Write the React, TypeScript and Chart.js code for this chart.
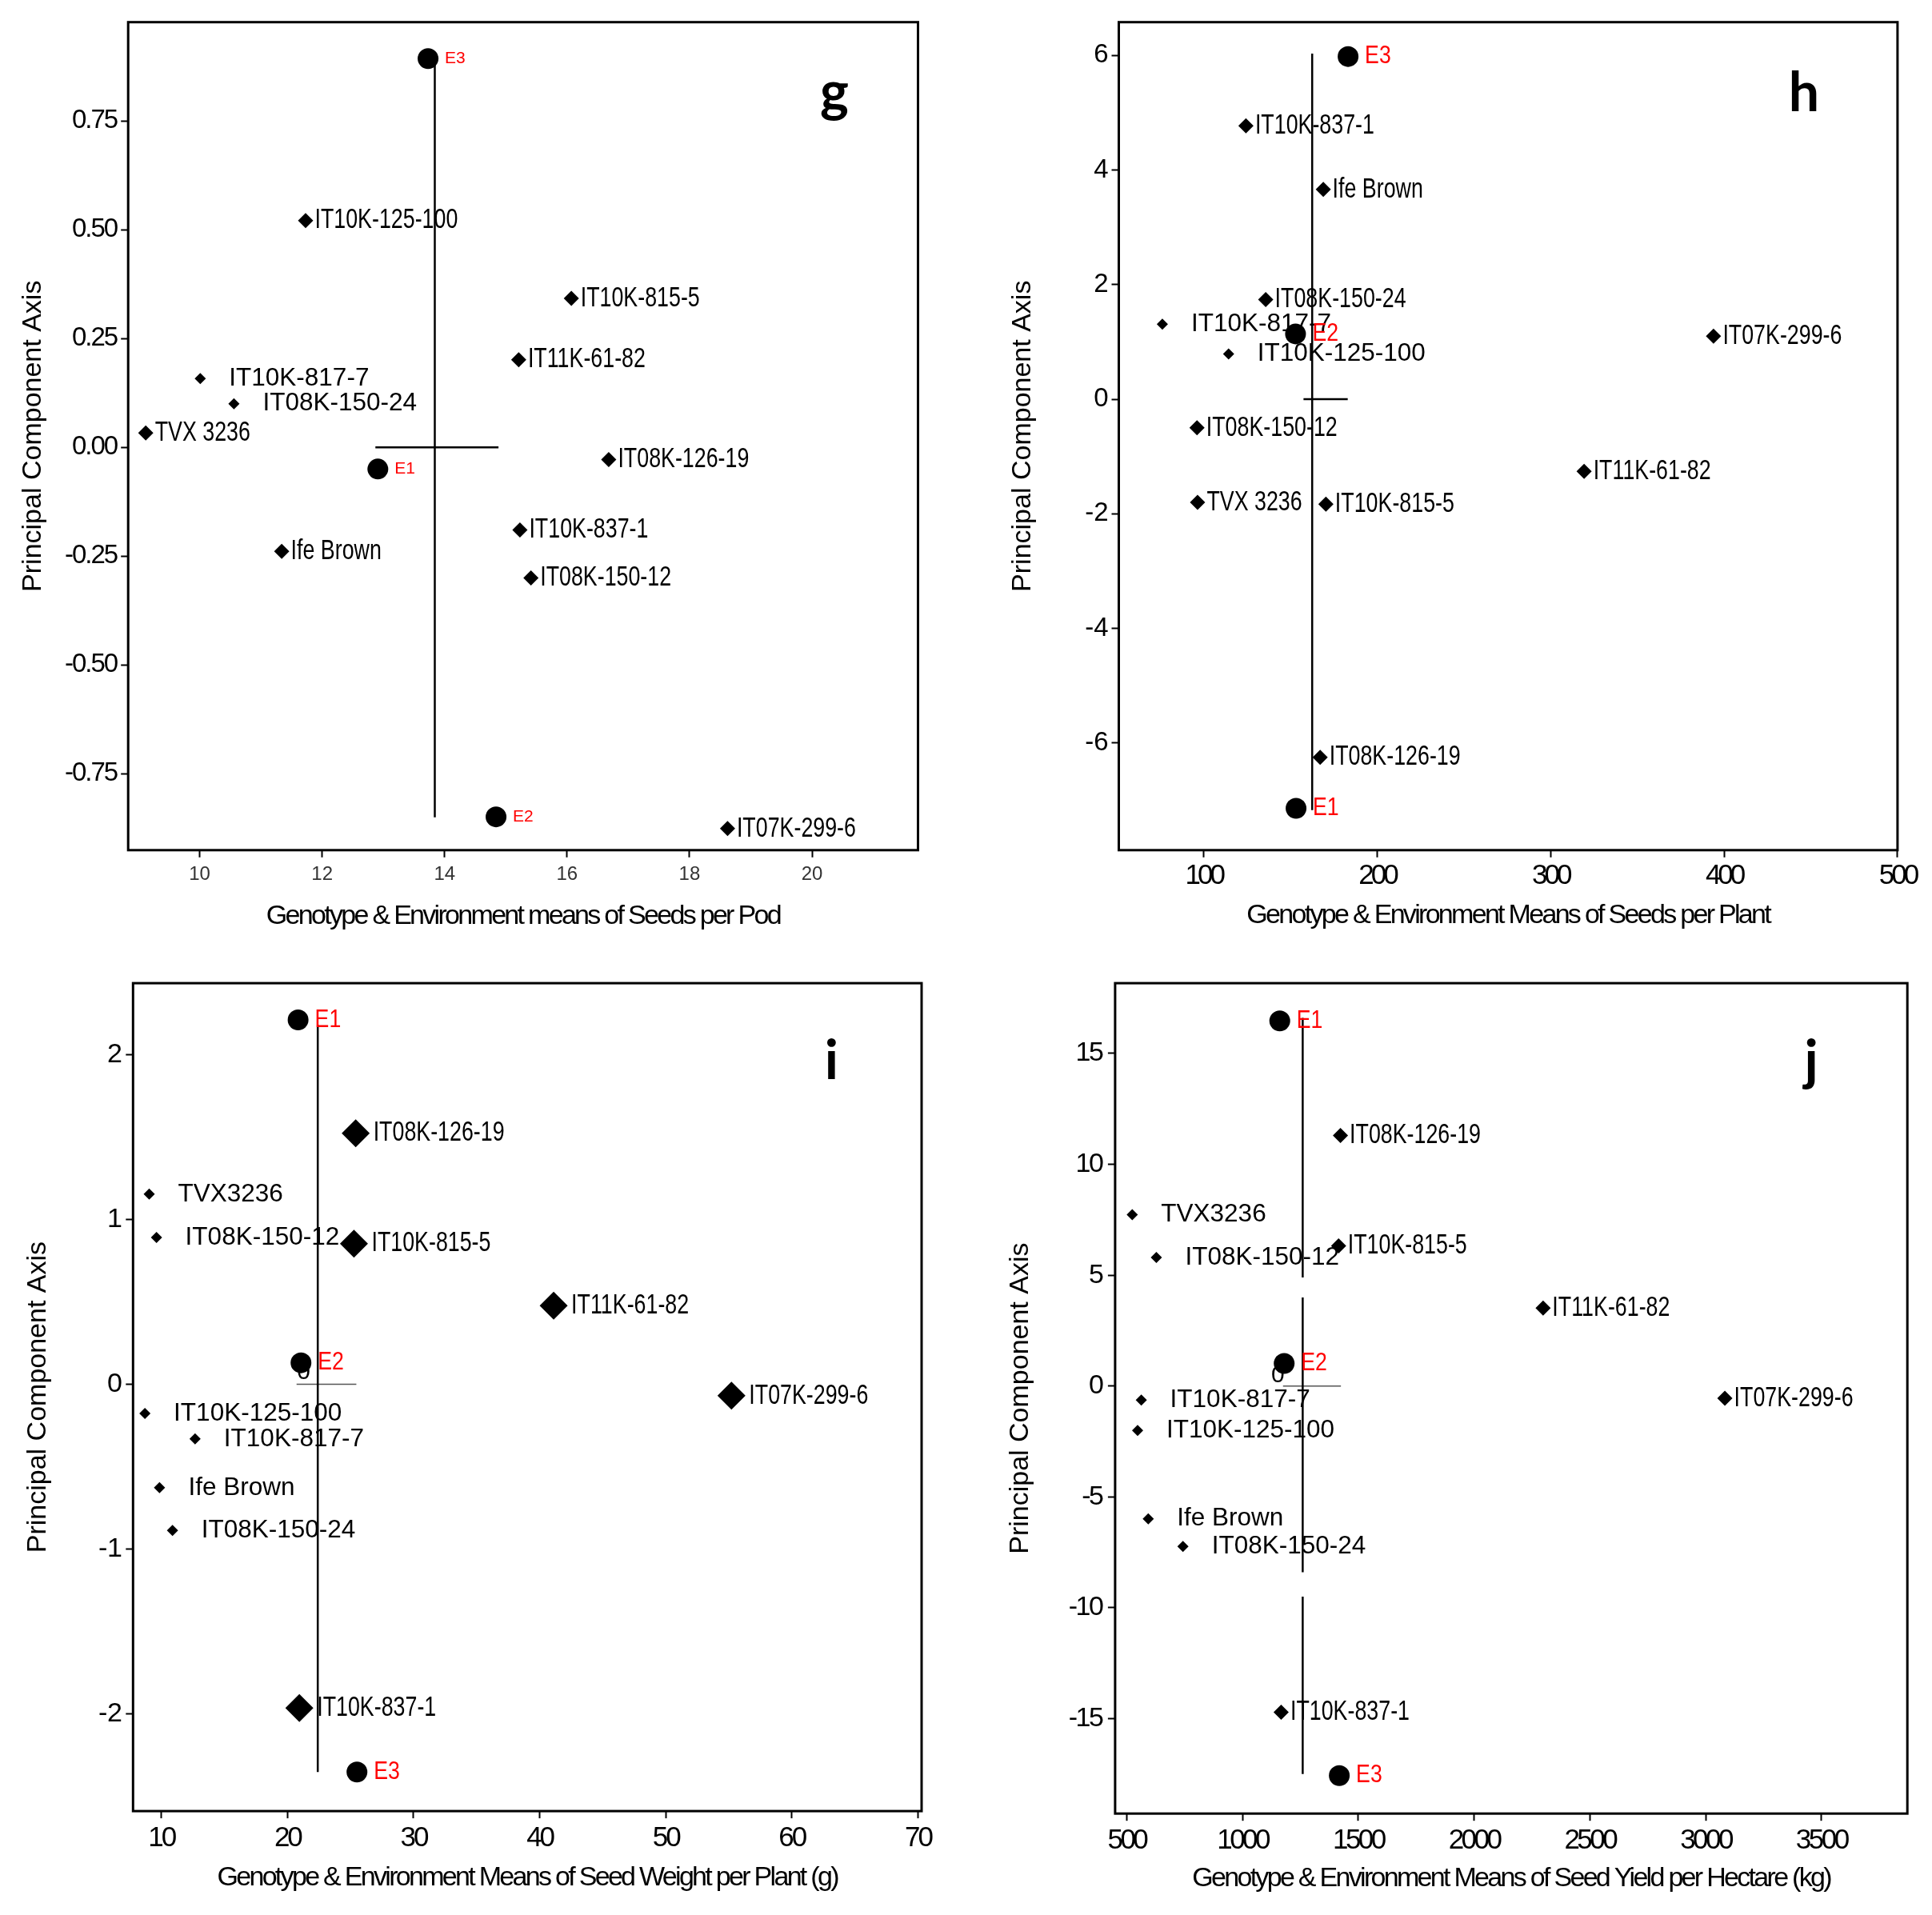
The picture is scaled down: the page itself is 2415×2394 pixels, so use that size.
import React, { useEffect, useRef } from "react";
import { Chart, registerables } from "chart.js";

Chart.register(...registerables);

// ---------- shared names ----------
const genotypes = [
  "IT10K-125-100", "IT10K-815-5", "IT11K-61-82", "IT10K-817-7", "IT08K-150-24",
  "TVX3236", "IT08K-126-19", "IT10K-837-1", "Ife Brown", "IT08K-150-12", "IT07K-299-6",
];
const genotypesSpaced = genotypes.map((n) => (n === "TVX3236" ? "TVX 3236" : n));
const environments = ["E1", "E2", "E3"];
const yAxisTitle = "Principal Component Axis";

// ---------- panel g : seeds per pod ----------
const gGenoX = [11.73, 16.07, 15.21, 10.01, 10.56, 9.12, 16.68, 15.23, 11.34, 15.41, 18.62];
const gGenoY = [0.521, 0.342, 0.201, 0.158, 0.1, 0.033, -0.028, -0.19, -0.239, -0.3, -0.876];
const gEnvX = [12.91, 14.84, 13.73];
const gEnvY = [-0.05, -0.849, 0.893];
const gVertical = [[13.84, -0.85], [13.84, 0.893]];
const gHorizontal = [[12.87, 0], [14.88, 0]];
const gXTicks = [10, 12, 14, 16, 18, 20];
const gYTicks = [-0.75, -0.5, -0.25, 0, 0.25, 0.5, 0.75];
const gXRange = [8.833, 21.73];
const gYRange = [-0.9255, 0.9766];

// ---------- panel h : seeds per plant ----------
const hGenoX = [114.3, 170.4, 319.3, 76.1, 135.7, 96.4, 167.1, 124.3, 168.9, 96.1, 393.9];
const hGenoY = [0.79, -1.83, -1.26, 1.31, 1.74, -1.8, -6.25, 4.77, 3.66, -0.5, 1.1];
const hEnvX = [153.2, 152.9, 183.2];
const hEnvY = [-7.14, 1.14, 5.98];
const hVertical = [[162.5, -7.17], [162.5, 6.03]];
const hHorizontal = [[157.5, 0], [183, 0]];
const hXTicks = [100, 200, 300, 400, 500];
const hYTicks = [-6, -4, -2, 0, 2, 4, 6];
const hXRange = [51, 500];
const hYRange = [-7.87, 6.58];

// ---------- panel i : seed weight per plant ----------
const iGenoX = [8.69, 25.27, 41.11, 12.67, 10.88, 9.03, 25.41, 20.94, 9.85, 9.61, 55.21];
const iGenoY = [-0.177, 0.853, 0.477, -0.332, -0.887, 1.153, 1.522, -1.965, -0.628, 0.89, -0.07];
const iEnvX = [20.84, 21.07, 25.51];
const iEnvY = [2.21, 0.13, -2.353];
const iVertical = [[22.4, -2.353], [22.4, 2.18]];
const iHorizontal = [[20.72, 0], [25.46, 0]];
const iXTicks = [10, 20, 30, 40, 50, 60, 70];
const iYTicks = [-2, -1, 0, 1, 2];
const iXRange = [7.75, 70.29];
const iYRange = [-2.59, 2.433];

// ---------- panel j : seed yield per hectare ----------
const jGenoX = [547, 1415, 2298, 563, 743, 524, 1423, 1167, 593, 628, 3083];
const jGenoY = [-2.0, 6.32, 3.52, -0.63, -7.23, 7.73, 11.3, -14.71, -5.99, 5.8, -0.55];
const jEnvX = [1161, 1180, 1418];
const jEnvY = [16.47, 1.02, -17.57];
const jVerticalA = [[1260, 16.6], [1260, 4.9]];
const jVerticalB = [[1260, 4.0], [1260, -8.4]];
const jVerticalC = [[1260, -9.5], [1260, -17.5]];
const jHorizontal = [[1175, 0], [1425, 0]];
const jXTicks = [500, 1000, 1500, 2000, 2500, 3000, 3500];
const jYTicks = [-15, -10, -5, 0, 5, 10, 15];
const jXRange = [450, 3871];
const jYRange = [-19.28, 18.17];

// ---------- styles (not data) ----------
// n = normal diamond + condensed label, w = small diamond + wide label, b = big diamond + condensed label
const gStyle = ["n", "n", "n", "w", "w", "n", "n", "n", "n", "n", "n"];
const hStyle = ["w", "n", "n", "w", "n", "n", "n", "n", "n", "n", "n"];
const iStyle = ["w", "b", "b", "w", "w", "w", "b", "b", "w", "w", "b"];
const jStyle = ["w", "n", "n", "w", "w", "w", "n", "n", "w", "w", "n"];

const FONT = "'Liberation Sans', Arial, sans-serif";
const RADIUS: any = { n: 9.5, w: 7, b: 17.5 };
const LABEL: any = {
  n: { dx: 11.5, font: `35px ${FONT}`, sx: 0.766 },
  w: { dx: 36, font: `31.5px ${FONT}`, sx: 1 },
  b: { dx: 22, font: `35px ${FONT}`, sx: 0.766 },
};

const panels: any[] = [
  {
    key: "g", left: 0, top: 0, width: 1200, height: 1200,
    area: { l: 160.2, t: 27.7, r: 1147.5, b: 1062.8 },
    xRange: gXRange, yRange: gYRange, xTicks: gXTicks, yTicks: gYTicks,
    yFmt: (v: number) => v.toFixed(2),
    xTickFont: 24, xTickColor: "#333", xTickLS: 0, xTickPad: 7.4,
    yTickFont: 33, yTickLS: -2, yTickPad: 5,
    xTitle: "Genotype & Environment means of Seeds per Pod", xTitlePad: 33.6, yTitlePad: 21.2,
    names: genotypesSpaced, genoX: gGenoX, genoY: gGenoY, styles: gStyle,
    envX: gEnvX, envY: gEnvY, envFont: `21px ${FONT}`, envSx: 1,
    lines: [{ pts: gVertical, color: "#000", w: 2.5 }, { pts: gHorizontal, color: "#000", w: 2.5 }],
    under: [],
    letter: "g", letterDx: -104.5, letterBase: 110,
  },
  {
    key: "h", left: 1200, top: 0, width: 1215, height: 1200,
    area: { l: 198.5, t: 27.7, r: 1171.9, b: 1062.8 },
    xRange: hXRange, yRange: hYRange, xTicks: hXTicks, yTicks: hYTicks,
    yFmt: (v: number) => String(v),
    xTickFont: 35, xTickColor: "#000", xTickLS: -4, xTickPad: 3,
    yTickFont: 33, yTickLS: 0, yTickPad: 4,
    xTitle: "Genotype & Environment Means of Seeds per Plant", xTitlePad: 35.2, yTitlePad: 58.6,
    names: genotypesSpaced, genoX: hGenoX, genoY: hGenoY, styles: hStyle,
    envX: hEnvX, envY: hEnvY, envFont: `31px ${FONT}`, envSx: 0.86,
    lines: [{ pts: hVertical, color: "#000", w: 2.5 }, { pts: hHorizontal, color: "#000", w: 2.5 }],
    under: [],
    letter: "h", letterDx: -117, letterBase: 111,
  },
  {
    key: "i", left: 0, top: 1200, width: 1200, height: 1194,
    area: { l: 166.3, t: 29.1, r: 1152, b: 1064.1 },
    xRange: iXRange, yRange: iYRange, xTicks: iXTicks, yTicks: iYTicks,
    yFmt: (v: number) => String(v),
    xTickFont: 35, xTickColor: "#000", xTickLS: -3, xTickPad: 4,
    yTickFont: 34, yTickLS: -0.5, yTickPad: 5,
    xTitle: "Genotype & Environment Means of Seed Weight per Plant (g)", xTitlePad: 26.3, yTitlePad: 27.6,
    names: genotypes, genoX: iGenoX, genoY: iGenoY, styles: iStyle,
    envX: iEnvX, envY: iEnvY, envFont: `31px ${FONT}`, envSx: 0.86,
    lines: [{ pts: iVertical, color: "#000", w: 2.5 }, { pts: iHorizontal, color: "#555", w: 1.5 }],
    under: [{ text: "0", x: 21.29, y: 0.07, font: `30px ${FONT}` }],
    letter: "i", letterDx: -112.6, letterBase: 120,
  },
  {
    key: "j", left: 1200, top: 1200, width: 1215, height: 1194,
    area: { l: 193.9, t: 29.1, r: 1184.2, b: 1067.2 },
    xRange: jXRange, yRange: jYRange, xTicks: jXTicks, yTicks: jYTicks,
    yFmt: (v: number) => String(v),
    xTickFont: 35, xTickColor: "#000", xTickLS: -3.5, xTickPad: 4,
    yTickFont: 34, yTickLS: -2.5, yTickPad: 7.5,
    xTitle: "Genotype & Environment Means of Seed Yield per Hectare (kg)", xTitlePad: 24.8, yTitlePad: 55.5,
    names: genotypes, genoX: jGenoX, genoY: jGenoY, styles: jStyle,
    envX: jEnvX, envY: jEnvY, envFont: `31px ${FONT}`, envSx: 0.86,
    lines: [
      { pts: jVerticalA, color: "#000", w: 2.5 },
      { pts: jVerticalB, color: "#000", w: 2.5 },
      { pts: jVerticalC, color: "#000", w: 2.5 },
      { pts: jHorizontal, color: "#555", w: 1.5 },
    ],
    under: [{ text: "0", x: 1153, y: 0.47, font: `30px ${FONT}` }],
    letter: "j", letterDx: -120, letterBase: 120,
  },
];

function drawText(ctx: any, text: string, px: number, py: number, font: string, sx: number, color: string, align = "left") {
  ctx.save();
  ctx.font = font;
  ctx.fillStyle = color;
  ctx.textAlign = align;
  ctx.textBaseline = "middle";
  ctx.translate(px, py);
  ctx.scale(sx, 1);
  ctx.fillText(text, 0, 0);
  ctx.restore();
}

function makePlugin(p: any) {
  return {
    id: "panelDecor_" + p.key,
    beforeDraw(chart: any) {
      const patch = (scale: any, name: string, ls: number) => {
        if (!scale || scale["__p_" + name]) return;
        const orig = scale[name].bind(scale);
        scale[name] = (...args: any[]) => {
          const c = chart.ctx;
          c.save();
          c.letterSpacing = ls + "px";
          orig(...args);
          c.restore();
        };
        scale["__p_" + name] = true;
      };
      patch(chart.scales.x, "drawLabels", p.xTickLS);
      patch(chart.scales.y, "drawLabels", p.yTickLS);
      patch(chart.scales.x, "drawTitle", -2.7);
      patch(chart.scales.y, "drawTitle", 0);
    },
    beforeDatasetsDraw(chart: any) {
      const { ctx, scales } = chart;
      p.under.forEach((u: any) => {
        drawText(ctx, u.text, scales.x.getPixelForValue(u.x), scales.y.getPixelForValue(u.y), u.font, 1, "#000", "center");
      });
    },
    afterDatasetsDraw(chart: any) {
      const { ctx, scales, chartArea } = chart;
      p.names.forEach((name: string, i: number) => {
        const st = LABEL[p.styles[i]];
        const px = scales.x.getPixelForValue(p.genoX[i]);
        const py = scales.y.getPixelForValue(p.genoY[i]);
        drawText(ctx, name, px + st.dx, py, st.font, st.sx, "#000");
      });
      environments.forEach((name: string, i: number) => {
        const px = scales.x.getPixelForValue(p.envX[i]);
        const py = scales.y.getPixelForValue(p.envY[i]);
        drawText(ctx, name, px + 21, py, p.envFont, p.envSx, "#ff0000");
      });
      ctx.save();
      ctx.font = `bold 68px Lato, ${FONT}`;
      ctx.fillStyle = "#000";
      ctx.textAlign = "center";
      ctx.textBaseline = "alphabetic";
      ctx.fillText(p.letter, chartArea.right + p.letterDx, chartArea.top + p.letterBase);
      ctx.restore();
    },
    afterDraw(chart: any) {
      const { ctx, chartArea } = chart;
      ctx.save();
      ctx.strokeStyle = "#000";
      ctx.lineWidth = 3;
      ctx.strokeRect(chartArea.left, chartArea.top, chartArea.right - chartArea.left, chartArea.bottom - chartArea.top);
      ctx.restore();
    },
  };
}

function Panel({ p }: { p: any }) {
  const ref = useRef<HTMLCanvasElement>(null);
  useEffect(() => {
    const canvas = ref.current as HTMLCanvasElement;
    const lineSets = p.lines.map((l: any) => ({
      data: l.pts.map((pt: number[]) => ({ x: pt[0], y: pt[1] })),
      showLine: true,
      borderColor: l.color,
      borderWidth: l.w,
      pointRadius: 0,
      fill: false,
      order: 5,
    }));
    const genoSet = {
      data: p.genoX.map((x: number, i: number) => ({ x, y: p.genoY[i] })),
      pointStyle: "rectRot",
      pointRadius: p.styles.map((s: string) => RADIUS[s]),
      backgroundColor: "#000",
      borderColor: "#000",
      borderWidth: 0,
      order: 1,
    };
    const envSet = {
      data: p.envX.map((x: number, i: number) => ({ x, y: p.envY[i] })),
      pointStyle: "circle",
      pointRadius: 13,
      backgroundColor: "#000",
      borderColor: "#000",
      borderWidth: 0,
      order: 0,
    };
    const w = p.width;
    const h = p.height;
    const chart = new Chart(canvas, {
      type: "scatter",
      data: { datasets: [envSet, genoSet, ...lineSets] as any },
      options: {
        responsive: false,
        maintainAspectRatio: false,
        animation: false,
        events: [],
        layout: { padding: { top: p.area.t, right: w - p.area.r, left: 0, bottom: 0 } },
        plugins: { legend: { display: false }, tooltip: { enabled: false } },
        scales: {
          x: {
            type: "linear",
            min: p.xRange[0],
            max: p.xRange[1],
            afterBuildTicks: (s: any) => { s.ticks = p.xTicks.map((v: number) => ({ value: v })); },
            afterFit: (s: any) => { s.height = h - p.area.b; },
            grid: { display: true, drawOnChartArea: false, drawTicks: true, tickLength: 9, tickWidth: 2, tickColor: "#000" },
            border: { display: false },
            ticks: {
              font: { family: FONT, size: p.xTickFont }, color: p.xTickColor, padding: p.xTickPad,
              maxRotation: 0, autoSkip: false, callback: (v: any) => String(v),
            },
            title: { display: true, text: p.xTitle, color: "#000", font: { family: FONT, size: 34 }, padding: { top: 0, bottom: p.xTitlePad } },
          },
          y: {
            type: "linear",
            min: p.yRange[0],
            max: p.yRange[1],
            afterBuildTicks: (s: any) => { s.ticks = p.yTicks.map((v: number) => ({ value: v })); },
            afterFit: (s: any) => { s.width = p.area.l; },
            grid: { display: true, drawOnChartArea: false, drawTicks: true, tickLength: 9, tickWidth: 2, tickColor: "#000" },
            border: { display: false },
            ticks: { font: { family: FONT, size: p.yTickFont }, color: "#000", padding: p.yTickPad, autoSkip: false, callback: (v: any) => p.yFmt(Number(v)) },
            title: { display: true, text: yAxisTitle, color: "#000", font: { family: FONT, size: 34 }, padding: { top: p.yTitlePad, bottom: 0 } },
          },
        },
      } as any,
      plugins: [makePlugin(p)],
    });
    return () => chart.destroy();
  }, []);
  return (
    <canvas
      ref={ref}
      width={p.width}
      height={p.height}
      style={{ position: "absolute", left: p.left, top: p.top, width: p.width, height: p.height }}
    />
  );
}

export default function App() {
  return (
    <div style={{ position: "absolute", left: 0, top: 0, width: 2415, height: 2394, background: "#fff", overflow: "hidden" }}>
      {panels.map((p) => (
        <Panel key={p.key} p={p} />
      ))}
    </div>
  );
}
